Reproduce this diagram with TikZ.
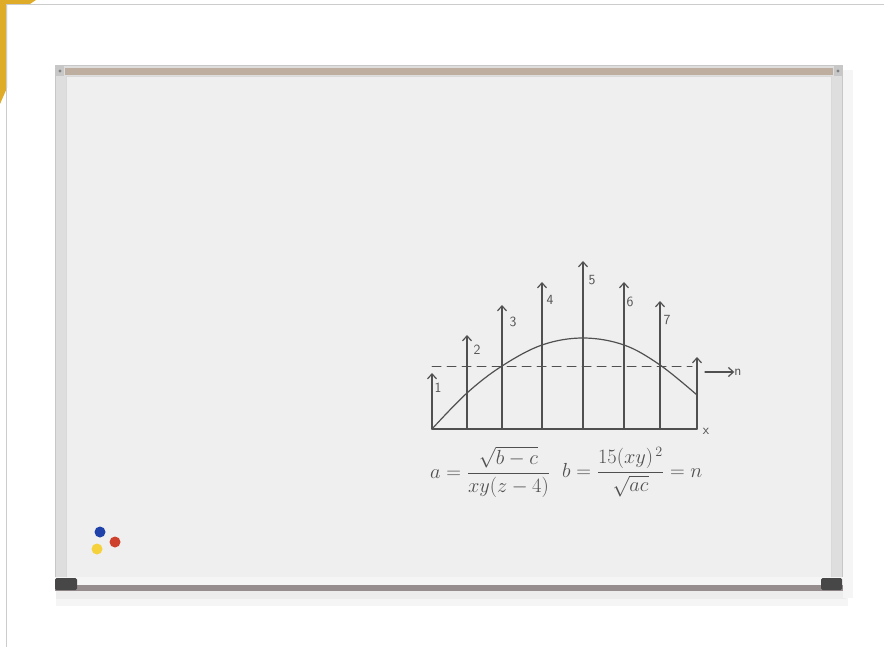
\documentclass[tikz,border=0pt]{standalone}
\usepackage{amsmath}
\usepackage{graphicx}
\usetikzlibrary{arrows.meta}
\definecolor{tabgold}{RGB}{222,172,40}
\definecolor{boardwhite}{RGB}{239,239,239}
\definecolor{framegray}{RGB}{222,222,222}
\definecolor{traytan}{RGB}{190,174,160}
\definecolor{trayband}{RGB}{150,141,143}
\definecolor{penink}{RGB}{80,80,80}
\definecolor{magblue}{RGB}{30,65,170}
\definecolor{magred}{RGB}{205,65,45}
\definecolor{magyellow}{RGB}{245,210,60}
\tikzset{
  pen/.style={draw=penink, line width=1.2pt, line cap=round},
  penarrow/.style={pen, -{Straight Barb[length=5pt,width=9pt]}},
  penlabel/.style={text=penink, font=\sffamily\fontsize{14}{14}\selectfont, inner sep=0pt},
  formula/.style={text=penink, inner sep=0pt, anchor=west, font=\LARGE}
}
\begin{document}
\begin{tikzpicture}[x=1pt,y=-1pt]
\useasboundingbox (0,0) rectangle (884,647);
\fill[white] (0,0) rectangle (884,647);
% page tab and border
\fill[tabgold] (0,0) -- (36,0) -- (30,4) -- (7,4) -- (7,88) -- (0,104) -- cycle;
\draw[black!20, line width=1.2pt] (884,4.5) -- (6.5,4.5) -- (6.5,647);
% shadow under the board
\fill[black!4] (56,588) rectangle (848,606);
\fill[black!7] (56,588) rectangle (846,599);
\fill[black!4] (843,70) rectangle (853,598);
% frame
\fill[black!22] (55,65) rectangle (843,591);
\fill[framegray] (56,66) rectangle (842,590);
\draw[black!15, line width=0.6pt] (66.5,76.5) rectangle (831.5,578);
\fill[boardwhite] (67,77) rectangle (831,578);
\fill[traytan] (65,68) rectangle (833,75);
\fill[black!22] (56,66) rectangle (64,76);
\fill[black!22] (834,66) rectangle (842,76);
\fill[black!50] (60,71) circle (1.6);
\fill[black!50] (838,71) circle (1.6);
% bottom tray
\fill[black!4] (55,577) rectangle (843,585);
\fill[trayband] (55,585) rectangle (843,591);
\fill[black!72, rounded corners=1.5pt] (55,578) rectangle (77,590);
\fill[black!72, rounded corners=1.5pt] (821,578) rectangle (842,590);
% magnets
\fill[magblue] (100,532) circle (5.5);
\fill[magred] (115,542) circle (5.5);
\fill[magyellow] (97,549) circle (5.5);
% chart
\draw[pen] (432,429) -- (697,429);
\node[penlabel] (xlab) at (706,431) {x};
\foreach \xx/\yy in {432/373, 467/335, 502/305, 542/282, 583/261, 624/282, 660/301, 697/357}
  \draw[penarrow] (\xx,429) -- (\xx,\yy);
\node[penlabel] (lab1) at (438,388) {1};
\node[penlabel] (lab2) at (477,350) {2};
\node[penlabel] (lab3) at (513,322) {3};
\node[penlabel] (lab4) at (550,300) {4};
\node[penlabel] (lab5) at (592,280) {5};
\node[penlabel] (lab6) at (630,302) {6};
\node[penlabel] (lab7) at (667,320) {7};
\draw[pen, dashed, dash pattern=on 9pt off 6pt, line width=1pt] (432,366) -- (692,366);
\coordinate (nfrom) at (705,372);
\node[penlabel] (nlab) at (738,372) {n};
\draw[penarrow] (nfrom) -- (nlab.west);
\draw[pen] plot[smooth, tension=0.6] coordinates {(432,429) (467,393) (502,366) (542,345) (583,338) (624,345) (660,365) (697,395)};
% formulas
\node[formula] (aeq) at (430,472) {\scalebox{1.18}{$a=\dfrac{\sqrt{b-c}}{xy(z-4)}$}};
\node[formula] (beq) at (562,472) {\scalebox{1.18}{$b=\dfrac{15(xy)^{\,2}}{\sqrt{ac}}=n$}};
\end{tikzpicture}
\end{document}
